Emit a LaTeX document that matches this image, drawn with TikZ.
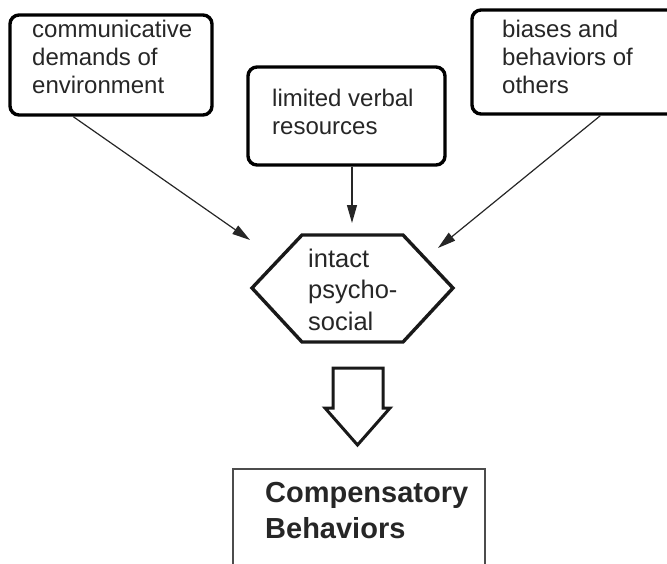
\documentclass[tikz,border=0pt]{standalone}
\usepackage{fontspec}
\setmainfont{Liberation Sans}
\usetikzlibrary{arrows.meta}

% multi-line text nodes are placed by the baseline of their last line
\tikzset{
  roundbox/.style={draw, line width=3.4pt, rounded corners=9pt, inner sep=0pt},
  boxtext/.style={inner sep=0pt, align=left, anchor=base west,
    font=\fontsize{24}{28}\selectfont, text=black!85},
  hextext/.style={inner sep=0pt, align=left, anchor=base west,
    font=\fontsize{25.5}{31.5}\selectfont, text=black!85},
  resulttext/.style={inner sep=0pt, align=left, anchor=base west,
    font=\fontsize{29}{36}\selectfont\bfseries, text=black!85},
  influence/.style={line width=1.2pt, black!85,
    -{Triangle[length=18pt,width=10pt]}},
}

\begin{document}
\begin{tikzpicture}[x=1pt, y=-1pt]
  \useasboundingbox (0,0) rectangle (667,563);
  \clip (0,0) rectangle (667,563);

  % three influences
  \node[roundbox, minimum width=202pt, minimum height=100pt] (env) at (111,65) {};
  \node[boxtext] (envtxt) at (32,93) {communicative\\demands of\\environment};

  \node[roundbox, minimum width=197pt, minimum height=98pt] (res) at (346.5,116) {};
  \node[boxtext] (restxt) at (272,134) {limited verbal\\resources};

  \node[roundbox, minimum width=218pt, minimum height=104pt] (oth) at (581,62) {};
  \node[boxtext] (othtxt) at (502,93) {biases and\\behaviors of\\others};

  % hexagon: intact psychosocial
  \draw[line width=3.4pt, line join=miter, black!90]
    (252,288) coordinate (hexW) -- (302,235) -- (403,235) -- (453,288) coordinate (hexE)
    -- (403,342) -- (302,342) -- cycle;
  \node[hextext] (hextxt) at (308,330) {intact\\psycho-\\social};

  % arrow ends next to the hexagon
  \coordinate (inA) at (250,240);
  \coordinate (inB) at (352,223);
  \coordinate (inC) at (438,248);

  \draw[influence] ([xshift=65pt]env.south west) -- (inA);
  \draw[influence] ([xshift=5.5pt]res.south) -- (inB);
  \draw[influence] ([xshift=130pt]oth.south west) -- (inC);

  % block arrow down
  \draw[line width=3pt, line join=miter, black!90]
    (333,368) -- (383,368) -- (383,408) -- (390,408) -- (357.5,445)
    -- (325,408) -- (333,408) -- cycle;

  % outcome box
  \draw[line width=1.1pt, black!70] (233,469) rectangle (485,590);
  \node[resulttext] (outtxt) at (265,538) {Compensatory\\Behaviors};
\end{tikzpicture}
\end{document}
